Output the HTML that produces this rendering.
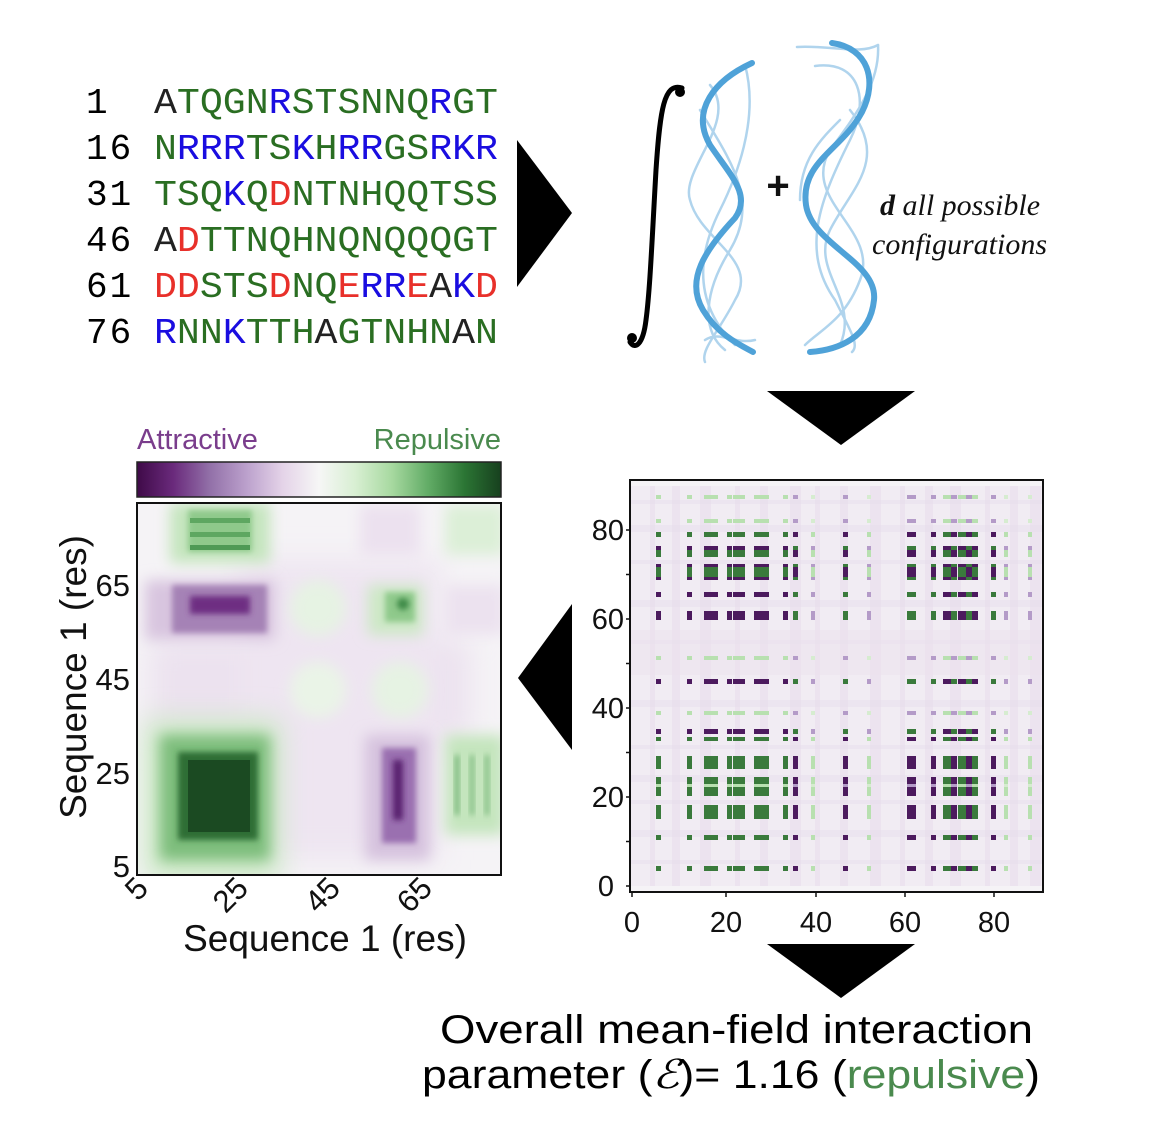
<!DOCTYPE html>
<html><head><meta charset="utf-8"><style>
html,body{margin:0;padding:0;background:#fff;}
svg{display:block;}
.mono{font-family:"Courier New","Nimbus Mono PS","FreeMono","Liberation Mono",monospace;font-size:36px;}
.sans{font-family:"Liberation Sans",sans-serif;}
</style></head><body>
<svg id="s" width="1150" height="1130" viewBox="0 0 1150 1130" xmlns="http://www.w3.org/2000/svg">
<defs>
<linearGradient id="cb" x1="0" x2="1" y1="0" y2="0">
<stop offset="0" stop-color="#3f0a48"/><stop offset="0.1" stop-color="#6a2a7c"/><stop offset="0.2" stop-color="#9270a8"/><stop offset="0.3" stop-color="#bba0cc"/><stop offset="0.4" stop-color="#e4d3e8"/><stop offset="0.5" stop-color="#f6f6f6"/><stop offset="0.6" stop-color="#d8efd2"/><stop offset="0.7" stop-color="#a7d9a0"/><stop offset="0.8" stop-color="#62ac66"/><stop offset="0.9" stop-color="#2b7534"/><stop offset="1" stop-color="#17401e"/>
</linearGradient>
<filter id="bl" x="-50%" y="-50%" width="200%" height="200%"><feGaussianBlur stdDeviation="14"/></filter>
<filter id="bl2" x="-50%" y="-50%" width="200%" height="200%"><feGaussianBlur stdDeviation="7"/></filter>
<filter id="bl3" x="-50%" y="-50%" width="200%" height="200%"><feGaussianBlur stdDeviation="3"/></filter>
<clipPath id="lc"><rect x="137" y="503" width="364" height="372"/></clipPath>
<clipPath id="rc"><rect x="630" y="480" width="413" height="412"/></clipPath>
</defs>

<!-- sequence -->
<g class="mono">
<text x="86" y="113">1</text>
<text x="86" y="159" letter-spacing="2">16</text>
<text x="86" y="205" letter-spacing="2">31</text>
<text x="86" y="251" letter-spacing="2">46</text>
<text x="86" y="297" letter-spacing="2">61</text>
<text x="86" y="343" letter-spacing="2">76</text>
</g>
<g class="mono" font-size="36">
<text x="154" y="113" textLength="344" lengthAdjust="spacingAndGlyphs"><tspan fill="#222">A</tspan><tspan fill="#2a6e22">TQGN</tspan><tspan fill="#1a0de0">R</tspan><tspan fill="#2a6e22">STSNNQ</tspan><tspan fill="#1a0de0">R</tspan><tspan fill="#2a6e22">GT</tspan></text>
<text x="154" y="159" textLength="344" lengthAdjust="spacingAndGlyphs"><tspan fill="#2a6e22">N</tspan><tspan fill="#1a0de0">RRR</tspan><tspan fill="#2a6e22">TS</tspan><tspan fill="#1a0de0">K</tspan><tspan fill="#2a6e22">H</tspan><tspan fill="#1a0de0">RR</tspan><tspan fill="#2a6e22">GS</tspan><tspan fill="#1a0de0">RKR</tspan></text>
<text x="154" y="205" textLength="344" lengthAdjust="spacingAndGlyphs"><tspan fill="#2a6e22">TSQ</tspan><tspan fill="#1a0de0">K</tspan><tspan fill="#2a6e22">Q</tspan><tspan fill="#e8302a">D</tspan><tspan fill="#2a6e22">NTNHQQTSS</tspan></text>
<text x="154" y="251" textLength="344" lengthAdjust="spacingAndGlyphs"><tspan fill="#222">A</tspan><tspan fill="#e8302a">D</tspan><tspan fill="#2a6e22">TTNQHNQNQQQGT</tspan></text>
<text x="154" y="297" textLength="344" lengthAdjust="spacingAndGlyphs"><tspan fill="#e8302a">DD</tspan><tspan fill="#2a6e22">STS</tspan><tspan fill="#e8302a">D</tspan><tspan fill="#2a6e22">NQ</tspan><tspan fill="#e8302a">E</tspan><tspan fill="#1a0de0">RR</tspan><tspan fill="#e8302a">E</tspan><tspan fill="#222">A</tspan><tspan fill="#1a0de0">K</tspan><tspan fill="#e8302a">D</tspan></text>
<text x="154" y="343" textLength="344" lengthAdjust="spacingAndGlyphs"><tspan fill="#1a0de0">R</tspan><tspan fill="#2a6e22">NN</tspan><tspan fill="#1a0de0">K</tspan><tspan fill="#2a6e22">TTH</tspan><tspan fill="#222">A</tspan><tspan fill="#2a6e22">GTNHN</tspan><tspan fill="#222">A</tspan><tspan fill="#2a6e22">N</tspan></text>
</g>

<!-- arrows -->
<polygon points="517,140 572,213 517,287" fill="#000"/>
<polygon points="767,391 915,391 841,445" fill="#000"/>
<polygon points="572,604 518,678 572,750" fill="#000"/>
<polygon points="767,944 915,944 841,998" fill="#000"/>

<!-- integral & curves -->
<g fill="none" stroke="#a8d0ec" stroke-width="2.5" stroke-linecap="round" opacity="0.9">
<path d="M745,65 C760,120 735,180 720,210 C700,250 690,300 735,345"/>
<path d="M710,85 C740,120 680,170 690,200 C700,240 760,260 735,300 C720,330 700,350 705,362"/>
<path d="M700,110 C730,160 760,200 730,250 C705,290 700,330 725,350"/>
<path d="M705,340 C720,330 735,345 755,340"/>
<path d="M797,47 C830,45 860,55 878,45"/>
<path d="M815,66 C860,60 870,100 850,140 C820,200 800,250 835,300 C850,330 860,345 852,352"/>
<path d="M878,45 C880,80 860,110 830,150 C800,200 880,230 860,280 C845,320 820,330 805,345"/>
<path d="M850,110 C890,160 850,190 830,230 C810,270 860,300 840,345"/>
<path d="M800,200 C800,160 820,140 840,120"/>
</g>
<path d="M752,63 C715,80 690,110 710,145 C730,175 752,195 735,218 C705,250 685,280 703,310 C718,335 740,345 753,352" fill="none" stroke="#4fa2d8" stroke-width="6" stroke-linecap="round"/>
<path d="M832,43 C868,48 878,80 862,112 C842,150 800,162 806,205 C812,245 878,262 874,300 C870,338 838,350 810,352" fill="none" stroke="#4fa2d8" stroke-width="6" stroke-linecap="round"/>
<path d="M682,88 C664,82 660,110 656,170 C652,240 650,290 646,320 C643,345 635,350 630,342" fill="none" stroke="#000" stroke-width="5" stroke-linecap="round"/>
<circle cx="680" cy="92" r="5" fill="#000"/><circle cx="632" cy="338" r="5" fill="#000"/>
<text x="778" y="199" text-anchor="middle" class="sans" font-size="40" font-weight="bold" fill="#111">+</text>
<text x="880" y="215" font-family="Liberation Serif,serif" font-style="italic" font-size="30" fill="#111"><tspan font-weight="bold">d</tspan> all possible</text>
<text x="872" y="254" font-family="Liberation Serif,serif" font-style="italic" font-size="30" fill="#111">configurations</text>

<!-- left heatmap -->
<text x="137" y="449" class="sans" font-size="29" fill="#7a3d8c">Attractive</text>
<text x="501" y="449" class="sans" font-size="29" fill="#4a8a4e" text-anchor="end">Repulsive</text>
<rect x="137" y="462" width="364" height="35" fill="url(#cb)" stroke="#222" stroke-width="1.5"/>
<g clip-path="url(#lc)">
<rect x="137" y="503" width="364" height="372" fill="#f5f3f6"/>
<rect x="150" y="640" width="320" height="100" fill="#ece2ef" filter="url(#bl)"/>
<rect x="240" y="560" width="200" height="300" fill="#eee5f1" filter="url(#bl)"/>
<!-- big green -->
<rect x="145" y="720" width="135" height="160" fill="#cbe9c4" filter="url(#bl)"/>
<rect x="160" y="735" width="110" height="125" fill="#7dbd7b" filter="url(#bl2)"/>
<rect x="178" y="752" width="80" height="88" fill="#2e6e35" filter="url(#bl3)"/>
<rect x="188" y="760" width="62" height="72" fill="#1b4a22"/>
<!-- top green -->
<rect x="170" y="503" width="100" height="60" fill="#c4e5bd" filter="url(#bl2)"/>
<rect x="188" y="510" width="64" height="42" fill="#8fc98b" filter="url(#bl3)"/>
<rect x="190" y="518" width="60" height="5" fill="#5ea761"/><rect x="190" y="532" width="60" height="5" fill="#5ea761"/><rect x="190" y="545" width="60" height="5" fill="#4f9a55"/>
<!-- purple block -->
<rect x="145" y="580" width="130" height="60" fill="#d8c5df" filter="url(#bl2)"/>
<rect x="172" y="585" width="95" height="48" fill="#a582b6" filter="url(#bl3)"/>
<rect x="190" y="596" width="60" height="18" fill="#6e2f82" filter="url(#bl3)"/>
<!-- bottom-right purple -->
<rect x="365" y="735" width="65" height="125" fill="#d6c2de" filter="url(#bl2)"/>
<rect x="382" y="748" width="34" height="95" fill="#9a6fb0" filter="url(#bl3)"/>
<rect x="393" y="760" width="10" height="60" fill="#5a2070" filter="url(#bl3)"/>
<!-- small green -->
<rect x="368" y="585" width="55" height="50" fill="#cce8c5" filter="url(#bl2)"/>
<rect x="385" y="592" width="30" height="30" fill="#8fc98b" filter="url(#bl3)"/>
<circle cx="403" cy="604" r="6" fill="#3e8a47" filter="url(#bl3)"/>
<circle cx="318" cy="608" r="28" fill="#e6f3e3" filter="url(#bl2)"/>
<circle cx="318" cy="690" r="28" fill="#eaf4e7" filter="url(#bl2)"/>
<circle cx="400" cy="690" r="28" fill="#e6f3e3" filter="url(#bl2)"/>
<!-- right edge green -->
<rect x="445" y="735" width="60" height="100" fill="#c4e5bd" filter="url(#bl2)"/>
<rect x="455" y="755" width="4" height="60" fill="#6cb06e" filter="url(#bl3)"/><rect x="470" y="755" width="4" height="60" fill="#7ab97b" filter="url(#bl3)"/><rect x="485" y="755" width="4" height="60" fill="#7ab97b" filter="url(#bl3)"/>
<rect x="445" y="505" width="60" height="50" fill="#dcefd7" filter="url(#bl2)"/>
<rect x="360" y="505" width="60" height="50" fill="#ece1ef" filter="url(#bl2)"/>
<rect x="445" y="585" width="60" height="50" fill="#ece2ef" filter="url(#bl2)"/>
</g>
<rect x="137" y="503" width="364" height="372" fill="none" stroke="#111" stroke-width="2"/>
<g class="sans" font-size="31" fill="#111" text-anchor="end">
<text x="130" y="596">65</text><text x="130" y="690">45</text><text x="130" y="784">25</text><text x="130" y="877">5</text>
</g>
<g class="sans" font-size="31" fill="#111" text-anchor="end">
<text transform="translate(150,890) rotate(-45)">5</text>
<text transform="translate(250,890) rotate(-45)">25</text>
<text transform="translate(342,890) rotate(-45)">45</text>
<text transform="translate(434,890) rotate(-45)">65</text>
</g>
<text x="325" y="951" class="sans" font-size="37" fill="#111" text-anchor="middle">Sequence 1 (res)</text>
<text transform="translate(86,677) rotate(-90)" class="sans" font-size="37" fill="#111" text-anchor="middle">Sequence 1 (res)</text>

<!-- right heatmap -->
<g id="rh" clip-path="url(#rc)"><rect x="630" y="480" width="413" height="412" fill="#f1ecf3"/></g>
<rect x="630" y="480" width="413" height="412" fill="none" stroke="#111" stroke-width="2"/>
<g class="sans" font-size="29" fill="#111" text-anchor="end">
<text x="624" y="540">80</text><text x="624" y="629">60</text><text x="624" y="718">40</text><text x="624" y="807">20</text><text x="614" y="896">0</text>
</g>
<g class="sans" font-size="29" fill="#111" text-anchor="middle">
<text x="632" y="932">0</text><text x="726" y="932">20</text><text x="816" y="932">40</text><text x="905" y="932">60</text><text x="994" y="932">80</text>
</g>
<g stroke="#111" stroke-width="1.5" id="ticks"></g>

<!-- bottom text -->
<text x="440" y="1043" class="sans" font-size="40" fill="#000" textLength="593" lengthAdjust="spacingAndGlyphs">Overall mean-field interaction</text>
<text x="422" y="1088" class="sans" font-size="40" fill="#000" textLength="618" lengthAdjust="spacingAndGlyphs">parameter (<tspan font-family="Liberation Serif,serif" font-style="italic">ℰ</tspan>)= 1.16 (<tspan fill="#4a8a4e">repulsive</tspan>)</text>
</svg>
<script>
(function(){
var NS="http://www.w3.org/2000/svg",g=document.getElementById("rh");
function R(x,y,w,h,c,o){var r=document.createElementNS(NS,"rect");r.setAttribute("x",x);r.setAttribute("y",y);r.setAttribute("width",w);r.setAttribute("height",h);r.setAttribute("fill",c);if(o)r.setAttribute("opacity",o);g.appendChild(r);}
var bs=[650,672,700,735,760,790,815,840,870,900,925,950,985,1010,1030];
bs.forEach(function(x,i){R(x,480,5+(i%3)*3,412,"#e6d9ea",0.45);});
[500,525,560,600,640,700,745,775,800,830,860].forEach(function(y,i){R(630,y,413,4+(i%2)*3,"#e6dbea",0.4);});
R(630,630,413,45,"#ebe2ee",0.5);R(630,480,413,6,"#f5f3f6");R(630,886,413,6,"#f5f3f6");
var cols=[[656,5,1],[687,5,1],[704,14,1],[727,5,1],[733,12,1],[754,15,1],[783,5,1],[793,5,-1],[811,4,2],[843,5,-1],[867,4,2],[907,9,-1],[931,5,-1],[943,8,1],[951,6,-1],[958,8,1],[966,6,-1],[972,6,1],[991,5,-1],[1004,4,2],[1028,4,2]];
var rows=[[495,4,2],[519,4,2],[532,5,1],[546,4,-1],[550,7,1],[564,3,-1],[567,10,1],[577,3,-1],[592,5,-1],[611,9,-1],[656,4,2],[679,5,-1],[711,4,2],[729,5,-1],[737,4,1],[756,13,1],[777,7,1],[784,3,2],[787,9,1],[805,14,1],[835,5,1],[866,5,1]];
rows.forEach(function(r){cols.forEach(function(c){
 var light=(r[2]==2||c[2]==2),s=(r[2]==2?1:r[2])*(c[2]==2?1:c[2]),col;
 if(light){col=s>0?"#b8e0b0":"#b49bc8";if(r[2]==2&&c[2]==2)col="#d6ecd0";}
 else{col=s>0?"#3a7a3c":"#4c1a5e";}
 R(c[0],r[0],c[1],r[1],col);
});});
var t=document.getElementById("ticks");
function L(x1,y1,x2,y2){var l=document.createElementNS(NS,"line");l.setAttribute("x1",x1);l.setAttribute("y1",y1);l.setAttribute("x2",x2);l.setAttribute("y2",y2);t.appendChild(l);}
for(var v=0;v<=80;v+=10){var y=886-v*4.45;L(626,y,630,y);}
[632,726,816,905,994].forEach(function(x){L(x,892,x,897);});
})();
</script>
</body></html>
